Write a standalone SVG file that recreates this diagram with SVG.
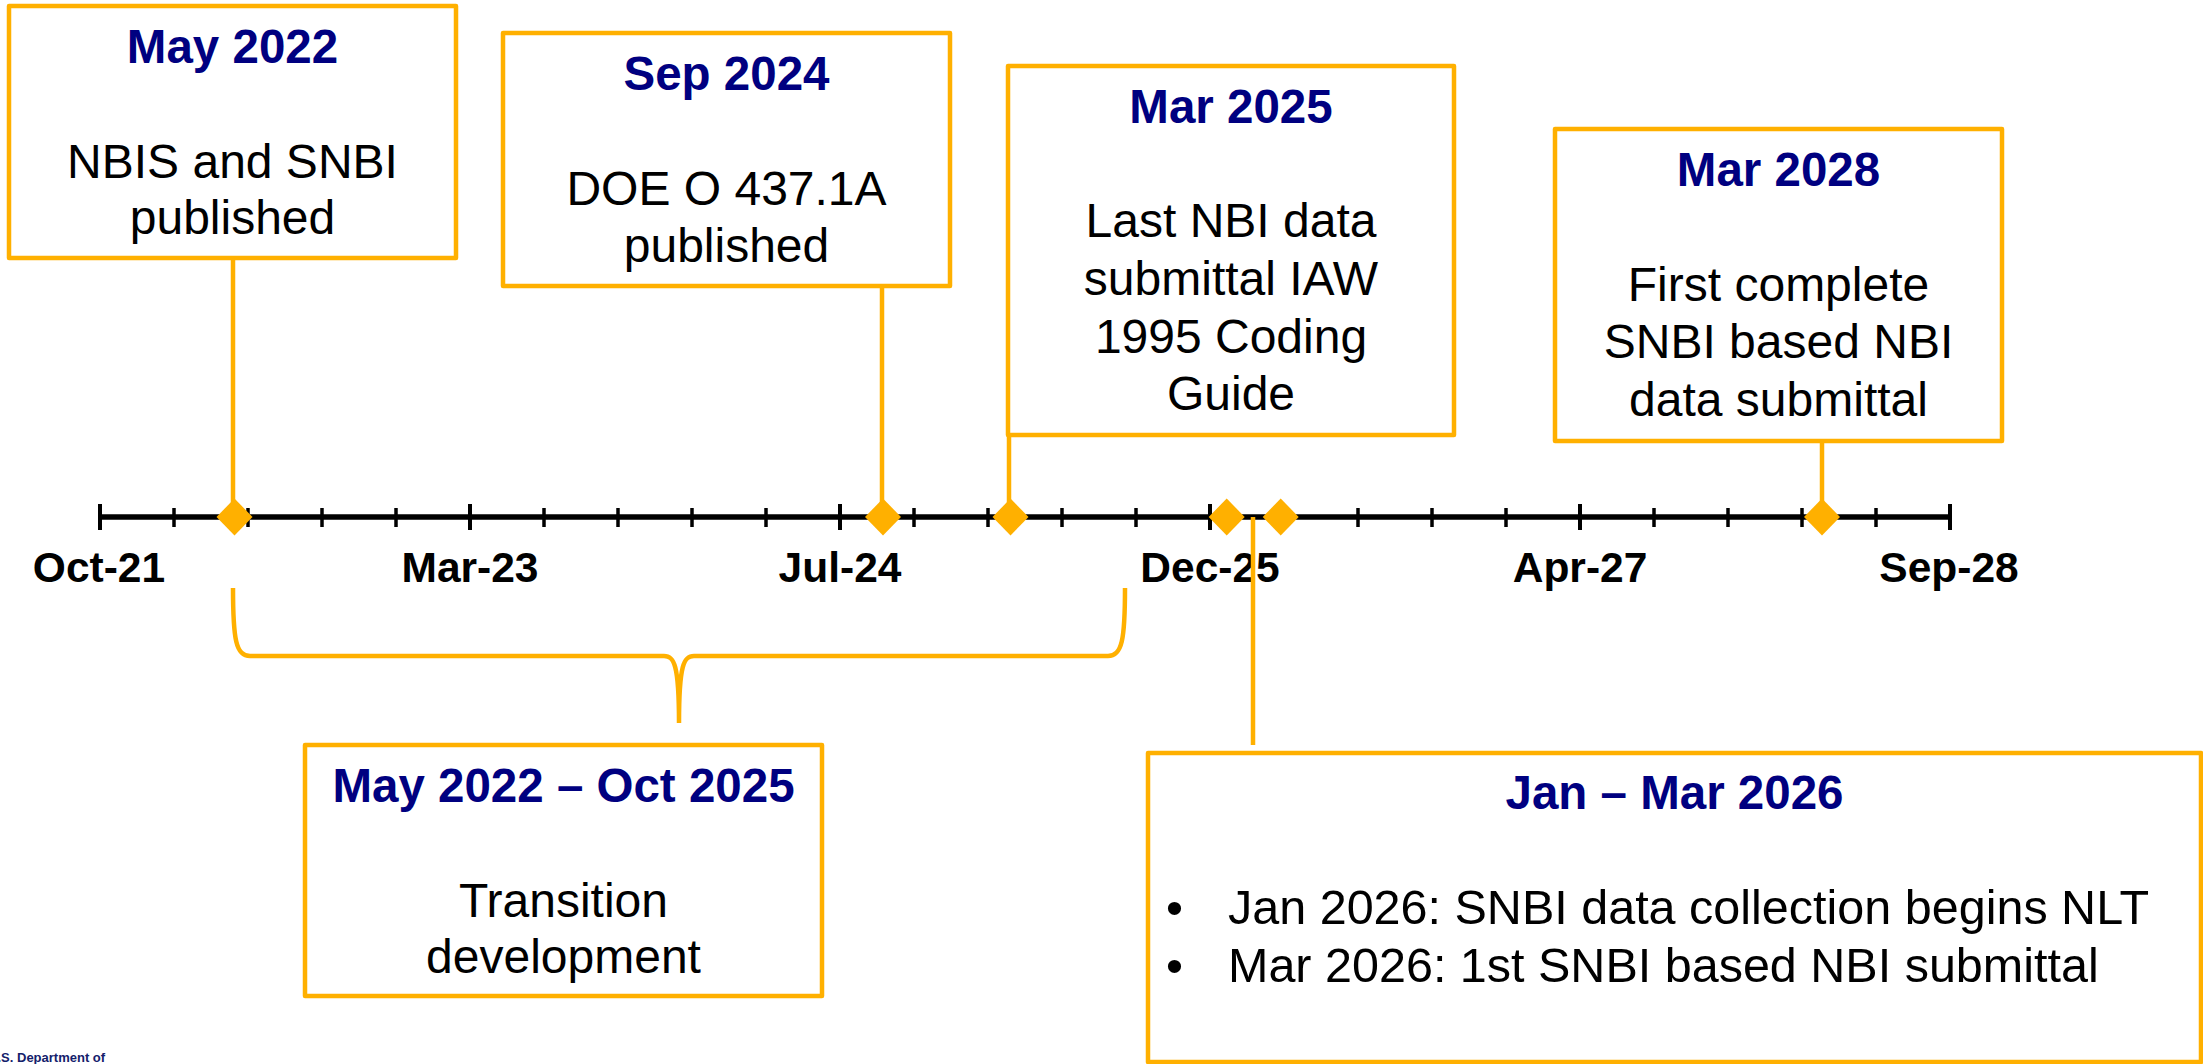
<svg xmlns="http://www.w3.org/2000/svg" width="2203" height="1064" viewBox="0 0 2203 1064">
<style>
.box{fill:#FFFFFF;stroke:#FFB000;stroke-width:4.5;stroke-linejoin:round}
.conn{fill:none;stroke:#FFB000;stroke-width:4.5}
.title{font-family:"Liberation Sans",Arial,sans-serif;font-weight:bold;font-size:47.5px;fill:#000080;text-anchor:middle}
.body{font-family:"Liberation Sans",Arial,sans-serif;font-size:48px;fill:#000000;text-anchor:middle}
.bul{font-family:"Liberation Sans",Arial,sans-serif;font-size:48.5px;fill:#000000}
.axl{font-family:"Liberation Sans",Arial,sans-serif;font-weight:bold;font-size:42.5px;fill:#000000;text-anchor:middle}
.minor{stroke:#000000;stroke-width:3.5}
.major{stroke:#000000;stroke-width:4}
.dia{fill:#FFB000}
</style>
<defs>
<polygon id="diamond" points="0,-18.5 18,0 0,18.5 -18,0"/>
</defs>
<rect width="2203" height="1064" fill="#FFFFFF"/>

<g id="axis">
<line x1="100" y1="517" x2="1950" y2="517" stroke="#000000" stroke-width="5.5"/>
<g class="ticks">
<line class="major" x1="100" y1="504" x2="100" y2="530"/>
<line class="minor" x1="174" y1="508" x2="174" y2="527"/>
<line class="minor" x1="248" y1="508" x2="248" y2="527"/>
<line class="minor" x1="322" y1="508" x2="322" y2="527"/>
<line class="minor" x1="396" y1="508" x2="396" y2="527"/>
<line class="major" x1="470" y1="504" x2="470" y2="530"/>
<line class="minor" x1="544" y1="508" x2="544" y2="527"/>
<line class="minor" x1="618" y1="508" x2="618" y2="527"/>
<line class="minor" x1="692" y1="508" x2="692" y2="527"/>
<line class="minor" x1="766" y1="508" x2="766" y2="527"/>
<line class="major" x1="840" y1="504" x2="840" y2="530"/>
<line class="minor" x1="914" y1="508" x2="914" y2="527"/>
<line class="minor" x1="988" y1="508" x2="988" y2="527"/>
<line class="minor" x1="1062" y1="508" x2="1062" y2="527"/>
<line class="minor" x1="1136" y1="508" x2="1136" y2="527"/>
<line class="major" x1="1210" y1="504" x2="1210" y2="530"/>
<line class="minor" x1="1284" y1="508" x2="1284" y2="527"/>
<line class="minor" x1="1358" y1="508" x2="1358" y2="527"/>
<line class="minor" x1="1432" y1="508" x2="1432" y2="527"/>
<line class="minor" x1="1506" y1="508" x2="1506" y2="527"/>
<line class="major" x1="1580" y1="504" x2="1580" y2="530"/>
<line class="minor" x1="1654" y1="508" x2="1654" y2="527"/>
<line class="minor" x1="1728" y1="508" x2="1728" y2="527"/>
<line class="minor" x1="1802" y1="508" x2="1802" y2="527"/>
<line class="minor" x1="1876" y1="508" x2="1876" y2="527"/>
<line class="major" x1="1950" y1="504" x2="1950" y2="530"/>
</g>
<text class="axl" x="99" y="582">Oct-21</text>
<text class="axl" x="470" y="582">Mar-23</text>
<text class="axl" x="840" y="582">Jul-24</text>
<text class="axl" x="1210" y="582">Dec-25</text>
<text class="axl" x="1580" y="582">Apr-27</text>
<text class="axl" x="1949" y="582">Sep-28</text>
</g>

<g id="connectors">
<line class="conn" x1="233" y1="258" x2="233" y2="517"/>
<line class="conn" x1="882" y1="286" x2="882" y2="517"/>
<line class="conn" x1="1009" y1="435" x2="1009" y2="517"/>
<line class="conn" x1="1822" y1="441" x2="1822" y2="517"/>
<line class="conn" x1="1253" y1="517" x2="1253" y2="745"/>
<path class="conn" d="M233,588 C233,640 236,656 250,656 L664,656 C674,656 679,664 679,723 C679,664 684,656 694,656 L1108,656 C1122,656 1125,640 1125,588"/>
</g>

<g id="markers">
<use href="#diamond" class="dia" x="234.5" y="517"/>
<use href="#diamond" class="dia" x="883" y="517"/>
<use href="#diamond" class="dia" x="1010.5" y="517"/>
<use href="#diamond" class="dia" x="1226.7" y="517"/>
<use href="#diamond" class="dia" x="1280.7" y="517"/>
<use href="#diamond" class="dia" x="1822" y="517"/>
</g>

<g id="node-may2022">
<rect class="box" x="9" y="6" width="447" height="252"/>
<text class="title" x="232.5" y="63">May 2022</text>
<text class="body" x="232.5" y="178">NBIS and SNBI</text>
<text class="body" x="232.5" y="234">published</text>
</g>

<g id="node-sep2024">
<rect class="box" x="503" y="33" width="447" height="253"/>
<text class="title" x="726.5" y="90">Sep 2024</text>
<text class="body" x="726.5" y="205">DOE O 437.1A</text>
<text class="body" x="726.5" y="262">published</text>
</g>

<g id="node-mar2025">
<rect class="box" x="1008" y="66" width="446" height="369"/>
<text class="title" x="1231" y="123">Mar 2025</text>
<text class="body" x="1231" y="237">Last NBI data</text>
<text class="body" x="1231" y="295">submittal IAW</text>
<text class="body" x="1231" y="353">1995 Coding</text>
<text class="body" x="1231" y="410">Guide</text>
</g>

<g id="node-mar2028">
<rect class="box" x="1555" y="129" width="447" height="312"/>
<text class="title" x="1778.5" y="186">Mar 2028</text>
<text class="body" x="1778.5" y="301">First complete</text>
<text class="body" x="1778.5" y="358">SNBI based NBI</text>
<text class="body" x="1778.5" y="416">data submittal</text>
</g>

<g id="node-transition">
<rect class="box" x="305" y="745" width="517" height="251"/>
<text class="title" x="563.5" y="802">May 2022 – Oct 2025</text>
<text class="body" x="563.5" y="917">Transition</text>
<text class="body" x="563.5" y="973">development</text>
</g>

<g id="node-jan-mar2026">
<rect class="box" x="1148" y="753" width="1053" height="309"/>
<text class="title" x="1674.5" y="809">Jan – Mar 2026</text>
<text class="bul" x="1166" y="924">•</text>
<text class="bul" x="1228" y="924">Jan 2026: SNBI data collection begins NLT</text>
<text class="bul" x="1166" y="982">•</text>
<text class="bul" x="1228" y="982">Mar 2026: 1st SNBI based NBI submittal</text>
</g>

<text x="-2.5" y="1062" font-family="'Liberation Sans',Arial,sans-serif" font-weight="bold" font-size="13" fill="#14216b">.S. Department of</text>
</svg>
